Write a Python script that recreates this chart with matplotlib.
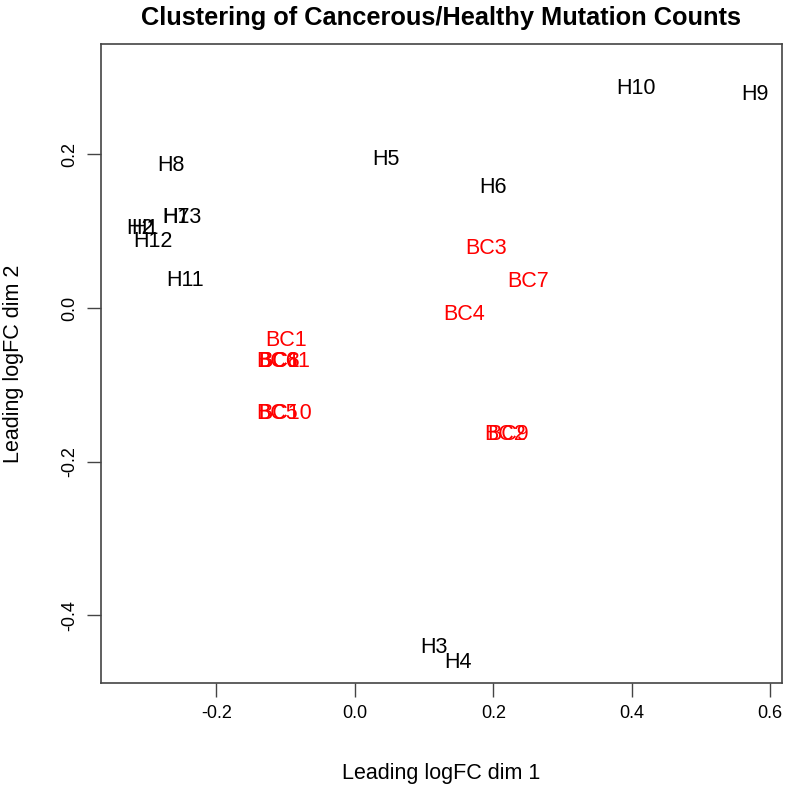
import matplotlib
matplotlib.use("Agg")
import matplotlib.pyplot as plt

# sample labels and MDS coordinates (leading logFC dims)
healthy_labels = ["H1", "H2", "H3", "H4", "H5", "H6", "H7", "H8", "H9", "H10", "H11", "H12", "H13"]
healthy_dim1 = [-0.303, -0.310, 0.114, 0.149, 0.045, 0.200, -0.258, -0.265, 0.578, 0.406, -0.246, -0.292, -0.250]
healthy_dim2 = [0.103, 0.103, -0.442, -0.461, 0.194, 0.157, 0.118, 0.185, 0.278, 0.286, 0.036, 0.086, 0.118]

cancer_labels = ["BC1", "BC2", "BC3", "BC4", "BC5", "BC6", "BC7", "BC8", "BC9", "BC10", "BC11"]
cancer_dim1 = [-0.100, 0.217, 0.189, 0.158, -0.112, -0.112, 0.250, -0.110, 0.222, -0.101, -0.102]
cancer_dim2 = [-0.042, -0.164, 0.077, -0.008, -0.137, -0.069, 0.034, -0.069, -0.164, -0.137, -0.069]

plt.rcParams["font.family"] = ["Liberation Sans", "DejaVu Sans"]

fig = plt.figure(figsize=(8.0, 7.88), dpi=100)
ax = fig.add_axes([0.126, 0.1332, 0.8515, 0.8108])

for lab, x, y in zip(healthy_labels, healthy_dim1, healthy_dim2):
    ax.text(x, y, lab, color="black", fontsize=15.5, ha="center", va="center")
for lab, x, y in zip(cancer_labels, cancer_dim1, cancer_dim2):
    ax.text(x, y, lab, color="#ff0000", fontsize=15.5, ha="center", va="center")

ax.set_xlim(-0.367, 0.617)
ax.set_ylim(-0.488, 0.3435)
ax.set_xticks([-0.2, 0.0, 0.2, 0.4, 0.6])
ax.set_xticklabels(["-0.2", "0.0", "0.2", "0.4", "0.6"])
ax.set_yticks([-0.4, -0.2, 0.0, 0.2])
ax.set_yticklabels(["-0.4", "-0.2", "0.0", "0.2"], rotation=90, va="center")
ax.tick_params(direction="out", length=10, width=1, labelsize=13, color="#444444", pad=6)

for s in ax.spines.values():
    s.set_linewidth(1.2)
    s.set_color("#444444")

ax.set_xlabel("Leading logFC dim 1", fontsize=15.5, labelpad=29)
ax.set_ylabel("Leading logFC dim 2", fontsize=15.5, labelpad=27)
# R centres the main title over the plotting region
fig.text(0.126 + 0.8515 / 2, 0.977, "Clustering of Cancerous/Healthy Mutation Counts",
         ha="center", va="center", fontsize=18.3, fontweight="bold")

fig.savefig("out.png", dpi=100)
